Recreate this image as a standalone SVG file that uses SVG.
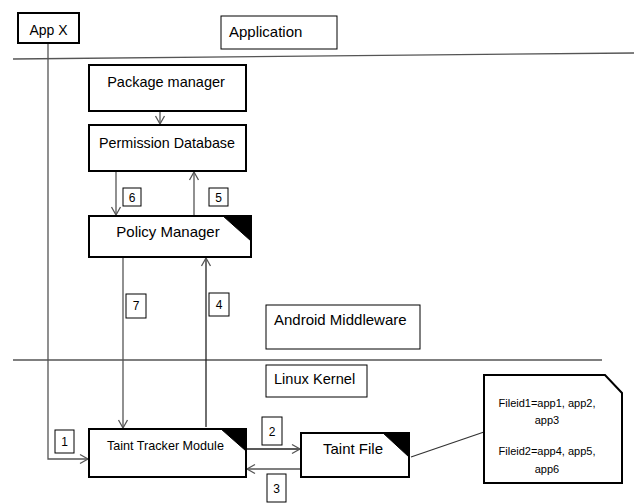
<svg xmlns="http://www.w3.org/2000/svg" width="637" height="503" viewBox="0 0 637 503">
<style>
  .thick{fill:#fff;stroke:#000;stroke-width:2}
  .thin{fill:#fff;stroke:#000;stroke-width:1}
  .lab{fill:#fff;stroke:#000;stroke-width:1}
  .fold{fill:#000;stroke:#000;stroke-width:1}
  text{font-family:"Liberation Sans",Arial,sans-serif;fill:#000}
  .c{text-anchor:middle}
  .num{font-size:12px;text-anchor:middle}
  .conn{fill:none;stroke:#555;stroke-width:1.3}
  .sep{fill:none;stroke:#555;stroke-width:1.3}
</style>
<defs>
  <marker id="ah" markerWidth="12" markerHeight="12" refX="10" refY="6" orient="auto" markerUnits="userSpaceOnUse">
    <polyline points="2,1.5 10,6 2,10.5" fill="none" stroke="#555" stroke-width="1.3"/>
  </marker>
</defs>
<rect width="637" height="503" fill="#fff"/>

<g id="separators">
  <line class="sep" x1="13" y1="59" x2="634" y2="53"/>
  <line class="sep" x1="13" y1="360" x2="602" y2="360"/>
</g>

<g id="connectors">
  <polyline class="conn" points="48,43 48,459 88,459" marker-end="url(#ah)"/>
  <line class="conn" x1="160" y1="111" x2="160" y2="124" marker-end="url(#ah)"/>
  <line class="conn" x1="116" y1="171" x2="116" y2="215" marker-end="url(#ah)"/>
  <line class="conn" x1="194" y1="216" x2="194" y2="172" marker-end="url(#ah)"/>
  <line class="conn" x1="123" y1="257" x2="123" y2="428" marker-end="url(#ah)"/>
  <line class="conn" x1="206" y1="427" x2="206" y2="258" marker-end="url(#ah)" style="stroke:#222"/>
  <line class="conn" x1="246" y1="449" x2="300" y2="449" marker-end="url(#ah)" style="stroke:#222"/>
  <line class="conn" x1="305" y1="469" x2="247" y2="469" marker-end="url(#ah)"/>
  <line class="conn" x1="411" y1="457" x2="484" y2="432" style="stroke:#333"/>
</g>

<g id="labels">
  <rect class="lab" x="123" y="188" width="18" height="18"/><text class="num" x="132" y="201.5">6</text>
  <rect class="lab" x="209" y="188" width="19" height="18"/><text class="num" x="218.5" y="201.5">5</text>
  <rect class="lab" x="126" y="294" width="20" height="24"/><text class="num" x="136" y="310">7</text>
  <rect class="lab" x="209" y="293" width="20" height="23"/><text class="num" x="219" y="309">4</text>
  <rect class="lab" x="55" y="430" width="19" height="23"/><text class="num" x="64.5" y="446">1</text>
  <rect class="lab" x="262" y="417" width="20" height="28"/><text class="num" x="272" y="436">2</text>
  <rect class="lab" x="267" y="474" width="19" height="28"/><text class="num" x="276.5" y="493">3</text>
</g>

<g id="app-x">
  <rect class="thick" x="18" y="13" width="61" height="30"/>
  <text class="c" x="48.5" y="35" font-size="14">App X</text>
</g>

<g id="application">
  <rect class="thin" x="221" y="16" width="116" height="33"/>
  <text x="229" y="37" font-size="15">Application</text>
</g>

<g id="package-manager">
  <rect class="thick" x="89" y="65" width="157" height="46"/>
  <text class="c" x="166" y="87" font-size="14.5">Package manager</text>
</g>

<g id="permission-database">
  <rect class="thick" x="89" y="125" width="157" height="46"/>
  <text class="c" x="167" y="148" font-size="14.3">Permission Database</text>
</g>

<g id="policy-manager">
  <rect class="thick" x="89" y="216" width="162" height="41"/>
  <polygon class="fold" points="223,216 251,216 251,241"/>
  <text class="c" x="168" y="237" font-size="15">Policy Manager</text>
</g>

<g id="android-middleware">
  <rect class="thin" x="266" y="305" width="154" height="44"/>
  <text x="274" y="325" font-size="15">Android Middleware</text>
</g>

<g id="linux-kernel">
  <rect class="thin" x="266" y="365" width="101" height="32"/>
  <text x="274" y="384" font-size="14.6">Linux Kernel</text>
</g>

<g id="taint-tracker-module">
  <rect class="thick" x="89" y="429" width="157" height="48"/>
  <polygon class="fold" points="221,429 246,429 246,451"/>
  <text x="107" y="450" font-size="12.6">Taint Tracker Module</text>
</g>

<g id="taint-file">
  <rect class="thick" x="301" y="433" width="108" height="44"/>
  <polygon class="fold" points="383,433 409,433 409,457"/>
  <text x="323" y="454" font-size="15">Taint File</text>
</g>

<g id="note">
  <polygon class="thick" points="484,375 605,375 622,393 622,483 484,483"/>
  <text class="c" x="547" y="407" font-size="11">Fileid1=app1, app2,</text>
  <text class="c" x="547" y="424" font-size="11">app3</text>
  <text class="c" x="547" y="455" font-size="11">Fileid2=app4, app5,</text>
  <text class="c" x="547" y="473" font-size="11">app6</text>
</g>
</svg>
